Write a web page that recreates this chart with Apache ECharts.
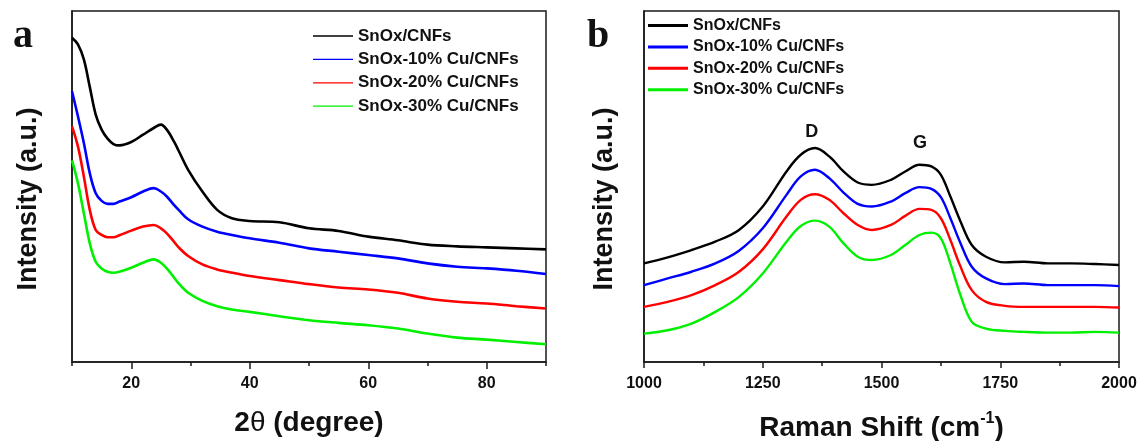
<!DOCTYPE html>
<html>
<head>
<meta charset="utf-8">
<script src="https://cdn.jsdelivr.net/npm/echarts@6/dist/echarts.min.js"></script>
<style>
  html, body { margin: 0; padding: 0; background: #fff; }
  #chart-container { width: 1140px; height: 441px; }
</style>
</head>
<body>
<div id="chart-container"></div>
<script>
// series names, shared by both panels
var names = ["SnOx/CNFs", "SnOx-10% Cu/CNFs", "SnOx-20% Cu/CNFs", "SnOx-30% Cu/CNFs"];
var colors = ["#000000", "#0000ff", "#ff0000", "#00f000"];

//#region panel a: XRD (intensity in arbitrary units)
var xrdAngle = [10, 11, 12, 13, 14, 15, 16, 17, 18, 20, 22, 23.8, 25, 26, 27.2, 28, 29.6, 32, 34.5, 37, 40, 45, 50, 55, 60, 65, 70, 75, 80, 85, 90];
var xrdPure = [970, 950, 905, 823, 740, 695, 668, 652, 648, 658, 680, 700, 710, 695, 660, 632, 575, 510, 455, 430, 422, 418, 400, 392, 375, 364, 351, 346, 343, 340, 337];
var xrdCu10 = [810, 735, 655, 565, 505, 482, 473, 473, 480, 493, 510, 520, 510, 495, 470, 455, 427, 405, 390, 380, 370, 357, 340, 330, 320, 310, 295, 285, 280, 273, 263];
var xrdCu20 = [705, 645, 555, 455, 395, 380, 373, 373, 379, 393, 405, 410, 400, 385, 360, 343, 317, 292, 277, 267, 257, 245, 233, 223, 217, 207, 190, 180, 175, 167, 160];
var xrdCu30 = [603, 535, 445, 355, 300, 280, 270, 267, 270, 282, 297, 307, 297, 280, 253, 235, 207, 183, 167, 157, 150, 137, 125, 117, 110, 100, 85, 73, 67, 60, 53];
var xrdLabelTicks = [20, 40, 60, 80];
//#endregion

//#region panel b: Raman
var ramanShift = [1000, 1050, 1100, 1150, 1200, 1250, 1300, 1330, 1360, 1390, 1420, 1450, 1480, 1520, 1550, 1580, 1605, 1625, 1645, 1665, 1690, 1720, 1760, 1800, 1850, 1900, 1950, 2000];
var ramanPure = [295, 313, 335, 360, 395, 465, 570, 620, 640, 615, 570, 537, 530, 545, 570, 590, 585, 560, 495, 425, 350, 315, 298, 300, 295, 295, 293, 290];
var ramanCu10 = [230, 250, 270, 295, 333, 400, 500, 555, 575, 550, 507, 473, 465, 480, 505, 523, 518, 493, 430, 360, 285, 250, 233, 235, 230, 230, 230, 227];
var ramanCu20 = [165, 180, 200, 230, 270, 337, 435, 485, 502, 485, 445, 410, 395, 410, 437, 458, 455, 430, 365, 290, 215, 180, 168, 165, 165, 165, 165, 163];
var ramanCu30 = [85, 95, 115, 150, 195, 265, 360, 407, 423, 405, 355, 315, 305, 320, 350, 380, 387, 370, 295, 205, 120, 100, 93, 90, 88, 88, 90, 88];
var bandNames = ["D", "G"];
var bandShift = [1353, 1581];
var bandLevel = [688, 655];
//#endregion

var chartDom = document.getElementById("chart-container");
var myChart = echarts.init(chartDom, null, { renderer: "canvas" });

var font = "'Liberation Sans', Arial, Helvetica, sans-serif";
var axisColor = "#1a1a1a";

function pairs(xs, ys) {
  return xs.map(function (x, i) { return [x, ys[i]]; });
}

function lineSeries(name, color, xs, ys, axisIndex, width) {
  return {
    name: name,
    type: "line",
    xAxisIndex: axisIndex,
    yAxisIndex: axisIndex,
    data: pairs(xs, ys),
    showSymbol: false,
    symbol: "none",
    smooth: 0.35,
    lineStyle: { color: color, width: width },
    itemStyle: { color: color },
    silent: true,
    z: 10 - names.indexOf(name)
  };
}

var xrdSets = [xrdPure, xrdCu10, xrdCu20, xrdCu30];
var ramanSets = [ramanPure, ramanCu10, ramanCu20, ramanCu30];

var series = [];
names.forEach(function (n, i) {
  series.push(lineSeries(n, colors[i], xrdAngle, xrdSets[i], 0, 2.6));
});
names.forEach(function (n, i) {
  series.push(lineSeries(n, colors[i], ramanShift, ramanSets[i], 1, 2.4));
});

// D and G band labels on the top Raman curve
series[4].markPoint = {
  symbol: "circle",
  symbolSize: 0,
  silent: true,
  label: {
    show: true,
    formatter: "{b}",
    color: "#111",
    fontFamily: font,
    fontWeight: "bold",
    fontSize: 18
  },
  data: bandNames.map(function (b, i) {
    return { name: b, coord: [bandShift[i], bandLevel[i]] };
  })
};

function xAxisBase(idx) {
  return {
    type: "value",
    gridIndex: idx,
    position: "bottom",
    axisLine: { show: true, lineStyle: { color: axisColor, width: 1.5 } },
    axisTick: { show: true, inside: false, length: 6, lineStyle: { color: axisColor, width: 1.5 } },
    splitLine: { show: false },
    axisLabel: {
      color: "#111",
      fontFamily: font,
      fontWeight: "bold",
      fontSize: 16,
      margin: 14
    },
    nameLocation: "middle",
    nameGap: 47,
    nameTextStyle: { color: "#111", fontFamily: font, fontWeight: "bold", fontSize: 28 }
  };
}

var xA = xAxisBase(0);
xA.min = 10;
xA.max = 90;
xA.interval = 10;
xA.axisTick.length = 4;
xA.axisLabel.formatter = function (v) { return v % 20 === 0 ? String(v) : ""; };
xA.name = "{b|2}{t|θ}{b| (degree)}";
xA.nameTextStyle.rich = {
  b: { fontFamily: font, fontWeight: "bold", fontSize: 28, color: "#111" },
  t: { fontFamily: font, fontWeight: "normal", fontSize: 28, color: "#111" }
};

// longer ticks at the labelled angles, laid over the same axis line
var xA2 = {
  type: "value",
  gridIndex: 0,
  position: "bottom",
  min: 10,
  max: 90,
  axisLine: { show: false },
  axisLabel: { show: false },
  splitLine: { show: false },
  axisTick: { show: true, inside: false, length: 7, customValues: xrdLabelTicks, lineStyle: { color: axisColor, width: 1.5 } }
};

var xB = xAxisBase(1);
xB.min = 1000;
xB.max = 2000;
xB.interval = 250;
xB.axisLabel.formatter = function (v) { return String(v); };
xB.minorTick = { show: true, splitNumber: 2, length: 4, lineStyle: { color: axisColor, width: 1.5 } };
xB.minorSplitLine = { show: false };
xB.name = "{b|Raman Shift (cm}{s|-1}{b|)}";
xB.nameGap = 49;
xB.nameTextStyle.rich = {
  b: { fontFamily: font, fontWeight: "bold", fontSize: 28, color: "#111", lineHeight: 34 },
  s: { fontFamily: font, fontWeight: "bold", fontSize: 16, color: "#111", verticalAlign: "top", lineHeight: 16 }
};

function yAxisBase(idx) {
  return {
    type: "value",
    gridIndex: idx,
    min: 0,
    max: 1050,
    axisLine: { show: true, lineStyle: { color: axisColor, width: 1.5 } },
    axisTick: { show: false },
    axisLabel: { show: false },
    splitLine: { show: false }
  };
}

function sideTitle(x, y, text, size, family) {
  return {
    type: "text",
    x: x,
    y: y,
    silent: true,
    style: {
      text: text,
      fill: "#111",
      font: "bold " + size + "px " + family,
      align: "left",
      textAlign: "left",
      verticalAlign: "bottom",
      textVerticalAlign: "bottom"
    }
  };
}

function yTitle(x, y) {
  return {
    type: "text",
    x: x,
    y: y,
    rotation: Math.PI / 2,
    silent: true,
    style: {
      text: "Intensity (a.u.)",
      fill: "#111",
      font: "bold 27px " + font,
      align: "center",
      textAlign: "center",
      verticalAlign: "middle",
      textVerticalAlign: "middle"
    }
  };
}

function legendFor(left, top, size, lh, thick) {
  return {
    orient: "vertical",
    left: left,
    top: top,
    padding: 0,
    icon: "rect",
    itemWidth: 40,
    itemHeight: thick,
    itemGap: lh + 3.4 - Math.max(lh, thick),
    selectedMode: false,
    data: names,
    textStyle: { color: "#111", fontFamily: font, fontWeight: "bold", fontSize: size, lineHeight: lh }
  };
}

var option = {
  animation: false,
  backgroundColor: "#ffffff",
  grid: [
    { left: 72, top: 11, width: 474, height: 351, outerBoundsMode: "none", show: true, borderColor: axisColor, borderWidth: 1.5, backgroundColor: "transparent" },
    { left: 644, top: 11, width: 475, height: 351, outerBoundsMode: "none", show: true, borderColor: axisColor, borderWidth: 1.5, backgroundColor: "transparent" }
  ],
  xAxis: [xA, xB, xA2],
  yAxis: [yAxisBase(0), yAxisBase(1)],
  legend: [
    legendFor(313, 26, 17, 20, 1.3),
    legendFor(648, 16.5, 16, 18, 3)
  ],
  graphic: [
    sideTitle(13, 57, "a", 40, "'Liberation Serif', 'Times New Roman', serif"),
    sideTitle(587, 57, "b", 40, "'Liberation Serif', 'Times New Roman', serif"),
    yTitle(29, 199),
    yTitle(605, 199)
  ],
  series: series
};

option && myChart.setOption(option);

window.addEventListener("resize", function () {
  myChart.resize();
});
</script>
</body>
</html>
